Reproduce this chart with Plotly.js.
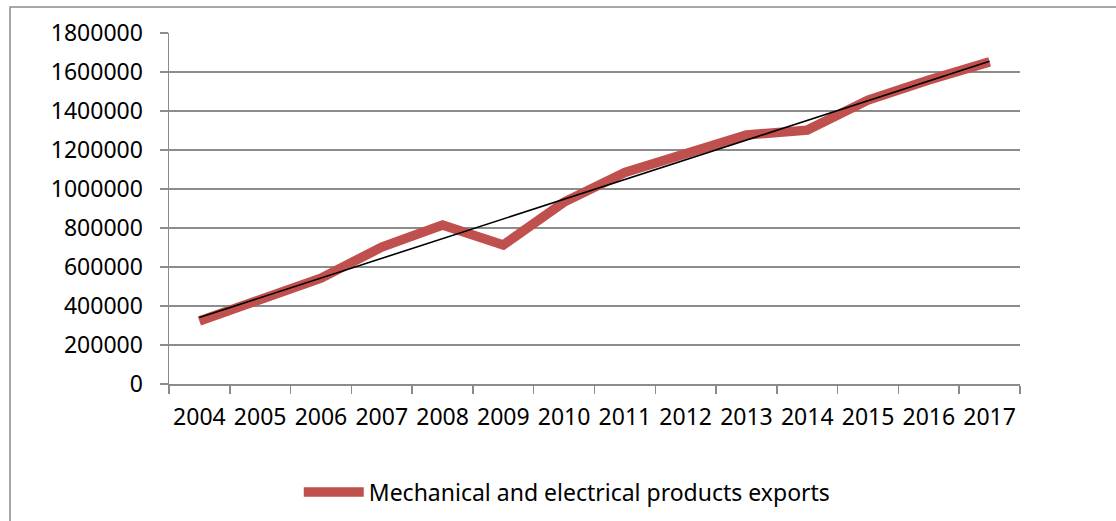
<!DOCTYPE html>
<html>
<head>
<meta charset="utf-8">
<script src="https://cdn.plot.ly/plotly-3.0.1.min.js"></script>
<style>
  html, body { margin: 0; padding: 0; background: #fff; overflow: hidden; }
  #chart { width: 1116px; height: 521px; }
</style>
</head>
<body>
<div id="chart"></div>
<script>
const years = ['2004','2005','2006','2007','2008','2009','2010','2011','2012','2013','2014','2015','2016','2017'];
const exportsValues = [323000, 430000, 543000, 702000, 815000, 713000, 933000, 1085000, 1185000, 1277000, 1302000, 1456000, 1559000, 1652000];
const seriesName = 'Mechanical and electrical products exports';
const yTicks = [0, 200000, 400000, 600000, 800000, 1000000, 1200000, 1400000, 1600000, 1800000];

// Linear trendline (least squares) computed from the series
const n = exportsValues.length;
const idx = exportsValues.map((_, i) => i + 1);
const mx = idx.reduce((a, b) => a + b, 0) / n;
const my = exportsValues.reduce((a, b) => a + b, 0) / n;
let sxy = 0, sxx = 0;
for (let i = 0; i < n; i++) { sxy += (idx[i] - mx) * (exportsValues[i] - my); sxx += (idx[i] - mx) ** 2; }
const slope = sxy / sxx, intercept = my - slope * mx;
const trendValues = idx.map(x => intercept + slope * x);

const font = 'Noto Sans, Open Sans, sans-serif';
const gray = '#8c8c8c';
const fs = 23;

const traces = [
  {
    x: years, y: exportsValues, type: 'scatter', mode: 'lines', name: seriesName,
    line: { color: '#C0504D', width: 9.5, shape: 'linear' }
  },
  {
    x: years, y: trendValues, type: 'scatter', mode: 'lines', showlegend: false,
    line: { color: '#000000', width: 1.6 }, hoverinfo: 'skip'
  }
];

const layout = {
  width: 1116, height: 521,
  margin: { l: 169, r: 96, t: 33, b: 137, autoexpand: false },
  paper_bgcolor: '#ffffff', plot_bgcolor: '#ffffff',
  font: { family: font, size: fs, color: '#000000' },
  showlegend: true,
  legend: {
    orientation: 'h', x: 0.468, xanchor: 'center', y: -0.308, yanchor: 'middle',
    font: { family: font, size: fs, color: '#000' }, itemwidth: 60, bgcolor: 'rgba(0,0,0,0)'
  },
  xaxis: {
    type: 'category', tickvals: years, ticktext: years, automargin: false,
    showgrid: false, showline: true, linecolor: gray, linewidth: 1.5,
    ticks: 'outside', tickson: 'boundaries', ticklen: 8, tickcolor: gray, tickwidth: 1.5,
    ticklabelstandoff: 12, tickangle: 0,
    tickfont: { family: font, size: fs, color: '#000' }, zeroline: false,
    range: [-0.5, 13.5], fixedrange: true
  },
  yaxis: {
    range: [0, 1800000], tickvals: yTicks, ticktext: yTicks.map(String), automargin: false,
    showgrid: true, gridcolor: gray, gridwidth: 1.5,
    showline: true, linecolor: gray, linewidth: 1.5,
    ticks: 'outside', ticklen: 8, tickcolor: gray, tickwidth: 1.5,
    ticklabelstandoff: 12,
    tickfont: { family: font, size: fs, color: '#000' }, zeroline: false, fixedrange: true
  },
  shapes: [
    { type: 'rect', xref: 'paper', yref: 'paper', x0: -0.1868, x1: 1.3, y0: -0.6, y1: 1.074,
      line: { color: '#8c8c8c', width: 1.5 }, fillcolor: 'rgba(0,0,0,0)', layer: 'below' }
  ]
};

Plotly.newPlot('chart', traces, layout, { displayModeBar: false, staticPlot: true });
</script>
</body>
</html>
